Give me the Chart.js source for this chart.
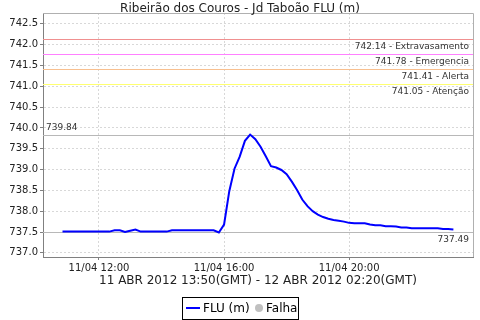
<!DOCTYPE html>
<html>
<head>
<meta charset="utf-8">
<script src="https://cdn.jsdelivr.net/npm/chart.js@4.4.1/dist/chart.umd.min.js"></script>
<style>
  html, body { margin: 0; padding: 0; background: #fff; }
  #wrap { width: 480px; height: 320px; position: relative; }
</style>
</head>
<body>
<div id="wrap"><canvas id="fluChart" width="480" height="320"></canvas></div>
<script>
// ====== dados ======
const chartTitle = 'Ribeirão dos Couros - Jd Taboão FLU (m)';
const periodLabel = '11 ABR 2012 13:50(GMT) - 12 ABR 2012 02:20(GMT)';

// horário local (11/04), leituras a cada 10 min
const times = [
  '10:50','11:00','11:10','11:20','11:30','11:40','11:50','12:00','12:10','12:20',
  '12:30','12:40','12:50','13:00','13:10','13:20','13:30','13:40','13:50','14:00',
  '14:10','14:20','14:30','14:40','14:50','15:00','15:10','15:20','15:30','15:40',
  '15:50','16:00','16:10','16:20','16:30','16:40','16:50','17:00','17:10','17:20',
  '17:30','17:40','17:50','18:00','18:10','18:20','18:30','18:40','18:50','19:00',
  '19:10','19:20','19:30','19:40','19:50','20:00','20:10','20:20','20:30','20:40',
  '20:50','21:00','21:10','21:20','21:30','21:40','21:50','22:00','22:10','22:20',
  '22:30','22:40','22:50','23:00','23:10','23:20'
];
const fluValues = [
  737.51, 737.51, 737.51, 737.51, 737.51, 737.51, 737.51, 737.51, 737.51, 737.51,
  737.54, 737.54, 737.50, 737.53, 737.56, 737.51, 737.51, 737.51, 737.51, 737.51,
  737.51, 737.54, 737.54, 737.54, 737.54, 737.54, 737.54, 737.54, 737.54, 737.54,
  737.49, 737.68, 738.48, 739.02, 739.31, 739.69, 739.84, 739.73, 739.55, 739.32,
  739.08, 739.05, 738.99, 738.89, 738.71, 738.51, 738.28, 738.12, 738.00, 737.92,
  737.86, 737.82, 737.79, 737.77, 737.75, 737.72, 737.71, 737.71, 737.71, 737.68,
  737.66, 737.66, 737.64, 737.64, 737.63, 737.61, 737.61, 737.59, 737.59, 737.59,
  737.59, 737.59, 737.59, 737.57, 737.57, 737.56
];

// cotas de alerta
const levelValues = [742.14, 741.78, 741.41, 741.05];
const levelNames  = ['Extravasamento', 'Emergencia', 'Alerta', 'Atenção'];
const levelColors = ['#f09090', '#ff80ff', '#f8c090', '#ffff70'];

const maxValue = 739.84;
const minValue = 737.49;

const xTickHours = [12, 16, 20];
const xTickLabels = ['11/04 12:00', '11/04 16:00', '11/04 20:00'];
const yTicks = [737.0, 737.5, 738.0, 738.5, 739.0, 739.5, 740.0, 740.5, 741.0, 741.5, 742.0, 742.5];

const legendItems = ['FLU (m)', 'Falha'];

// "HH:MM" -> horas
function toHours(s) {
  const [h, m] = s.split(':').map(Number);
  return h + m / 60;
}

const points = times.map((t, i) => ({ x: toHours(t), y: fluValues[i] }));

const FONT = '"DejaVu Sans", sans-serif';

// linhas de cota, max/min, título, legenda
const decorPlugin = {
  id: 'decor',
  beforeDatasetsDraw(chart) {
    const { ctx, chartArea: a, scales: { y } } = chart;
    ctx.save();
    ctx.lineWidth = 1;
    levelValues.forEach((v, i) => {
      const py = Math.round(y.getPixelForValue(v)) + 0.5;
      ctx.strokeStyle = levelColors[i];
      ctx.beginPath(); ctx.moveTo(a.left, py); ctx.lineTo(a.right, py); ctx.stroke();
      ctx.fillStyle = '#333';
      ctx.font = '9px ' + FONT;
      ctx.textAlign = 'right';
      ctx.textBaseline = 'top';
      ctx.fillText(v.toFixed(2) + ' - ' + levelNames[i], a.right - 4, py + 3);
    });
    // max / min
    ctx.strokeStyle = '#b8b8b8';
    const pMax = Math.round(y.getPixelForValue(maxValue)) + 0.5;
    const pMin = Math.round(y.getPixelForValue(minValue)) + 0.5;
    ctx.beginPath();
    ctx.moveTo(a.left, pMax); ctx.lineTo(a.right, pMax);
    ctx.moveTo(a.left, pMin); ctx.lineTo(a.right, pMin);
    ctx.stroke();
    ctx.fillStyle = '#333';
    ctx.font = '9px ' + FONT;
    ctx.textAlign = 'left';
    ctx.textBaseline = 'bottom';
    ctx.fillText(maxValue.toFixed(2), a.left + 3, pMax - 3);
    ctx.textAlign = 'right';
    ctx.textBaseline = 'top';
    ctx.fillText(minValue.toFixed(2), a.right - 4, pMin + 3);
    ctx.restore();
  },
  afterDraw(chart) {
    const { ctx, chartArea: a } = chart;
    ctx.save();
    // borda do gráfico
    ctx.strokeStyle = '#b0b0b0';
    ctx.lineWidth = 1;
    ctx.beginPath();
    ctx.moveTo(a.left, a.top + 0.5); ctx.lineTo(a.right + 0.5, a.top + 0.5); ctx.lineTo(a.right + 0.5, a.bottom);
    ctx.stroke();

    ctx.fillStyle = '#222';
    ctx.textAlign = 'center';
    ctx.textBaseline = 'alphabetic';
    ctx.font = '12px ' + FONT;
    ctx.fillText(chartTitle, 240, 12);
    ctx.textBaseline = 'middle';
    ctx.fillText(periodLabel, 258, 281);

    // legenda
    const lx = 182, ly = 297, lw = 116, lh = 22;
    ctx.strokeStyle = '#000';
    ctx.strokeRect(lx + 0.5, ly + 0.5, lw, lh);
    ctx.strokeStyle = '#0000ff';
    ctx.lineWidth = 2;
    ctx.beginPath(); ctx.moveTo(lx + 4, ly + 11); ctx.lineTo(lx + 18, ly + 11); ctx.stroke();
    ctx.fillStyle = '#000';
    ctx.font = '12px ' + FONT;
    ctx.textAlign = 'left';
    ctx.fillText(legendItems[0], lx + 21, ly + 11.5);
    ctx.fillStyle = '#c0c0c0';
    ctx.beginPath(); ctx.arc(lx + 77, ly + 11, 4, 0, Math.PI * 2); ctx.fill();
    ctx.fillStyle = '#000';
    ctx.fillText(legendItems[1], lx + 84, ly + 11.5);
    ctx.restore();
  }
};

const ctx = document.getElementById('fluChart').getContext('2d');
new Chart(ctx, {
  type: 'line',
  data: {
    datasets: [{
      label: 'FLU (m)',
      data: points,
      borderColor: '#0000ff',
      borderWidth: 2,
      pointRadius: 0,
      tension: 0,
      fill: false
    }]
  },
  options: {
    responsive: false,
    animation: false,
    layout: { padding: { top: 13, right: 7, left: 0, bottom: 0 } },
    plugins: { legend: { display: false }, title: { display: false }, tooltip: { enabled: false } },
    scales: {
      x: {
        type: 'linear',
        min: 10.21,
        max: 23.96,
        afterBuildTicks: s => { s.ticks = xTickHours.map(v => ({ value: v })); },
        afterFit: s => { s.height = 63; },
        ticks: {
          color: '#222',
          font: { family: FONT, size: 10 },
          padding: 2,
          maxRotation: 0,
          callback: v => xTickLabels[xTickHours.indexOf(v)]
        },
        grid: { color: '#d8d8d8', tickLength: 3, tickColor: '#808080' },
        border: { color: '#808080', dash: [2, 2] }
      },
      y: {
        min: 736.9,
        max: 742.76,
        afterBuildTicks: s => { s.ticks = yTicks.map(v => ({ value: v })); },
        afterFit: s => { s.width = 43; },
        ticks: {
          color: '#222',
          font: { family: FONT, size: 10 },
          padding: 2,
          callback: v => v.toFixed(1)
        },
        grid: { color: '#d8d8d8', tickLength: 3, tickColor: '#808080' },
        border: { color: '#808080', dash: [2, 2] }
      }
    }
  },
  plugins: [decorPlugin]
});
</script>
</body>
</html>
